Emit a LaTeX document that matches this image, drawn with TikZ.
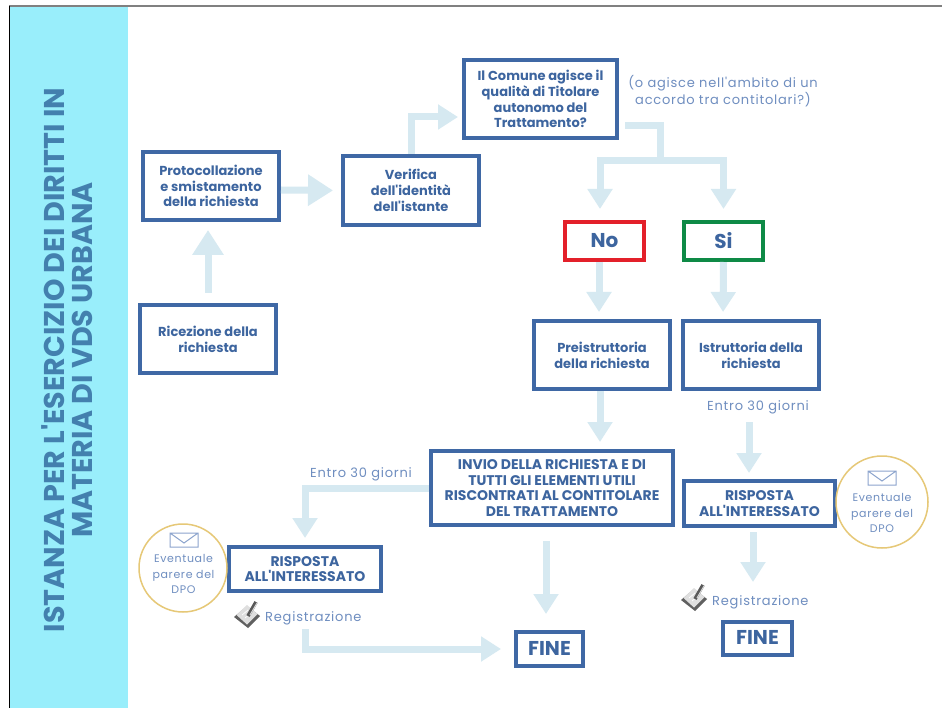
\documentclass[tikz,border=0pt]{standalone}
\usepackage{fontspec}
\setmainfont{Poppins}
\newfontfamily\titlefont{Poppins}[UprightFont={* Bold}]
\newfontfamily\boxfont{Poppins}[UprightFont={* Bold}]
\newfontfamily\lightfont{Poppins}[LetterSpace=6]
\usetikzlibrary{arrows.meta,calc}
\definecolor{boxblue}{HTML}{3F68A5}
\definecolor{txtblue}{HTML}{3D659F}
\definecolor{flowblue}{HTML}{D6E9F1}
\definecolor{softblue}{HTML}{6F8EC0}
\definecolor{strip}{HTML}{99EEFB}
\definecolor{titleblue}{HTML}{4380AE}
\definecolor{gold}{HTML}{E6C877}
\definecolor{noRed}{HTML}{E3202A}
\definecolor{siGreen}{HTML}{0E8A46}
\tikzset{
  x=1pt,y=-1pt,
  box/.style 2 args={draw=boxblue,line width=3.8pt,fill=white,text=txtblue,align=center,
    minimum width=#1pt-3.8pt,minimum height=#2pt-3.8pt,inner sep=0pt,font=\boxfont\fontsize{13}{15.8}\selectfont},
  bigbox/.style={font=\boxfont\fontsize{14}{15.8}\selectfont},
  finebox/.style={font=\boxfont\fontsize{20}{22}\selectfont},
  flow/.style={draw=flowblue,line width=7pt,line cap=butt,line join=miter,
    -{Triangle[length=20pt,width=24pt]}},
  bigflow/.style={flow,-{Triangle[length=25pt,width=30pt]}},
  note/.style={text=softblue,align=center,inner sep=0pt,font=\lightfont\fontsize{13}{17}\selectfont},
  dpo/.style={circle,draw=gold,line width=1.5pt,fill=white,inner sep=0pt},
}
\newcommand{\padicon}[2]{%
  \begin{scope}[shift={(#1,#2)}]
    \fill[gray!75!black] (-13,2) -- (0,-9) -- (13,1) -- (1,13) -- cycle;
    \fill[gray!25] (-10.5,0) -- (0,-10) -- (10.5,-1) -- (0,9.5) -- cycle;
    \draw[white,line width=.7pt] (-5,0) -- (1,-5) (-2,3) -- (4,-2);
    \draw[gray!70!black,line width=3.6pt] (1,1) -- (9,-13);
    \draw[gray!30,line width=1pt] (3,0) -- (10,-12);
  \end{scope}}
\newcommand{\envicon}[2]{%
  \begin{scope}[shift={(#1,#2)}]
    \draw[softblue!80,line width=1pt,line join=miter] (-14,-7) rectangle (14,7) (-14,-7) -- (0,3) -- (14,-7);
  \end{scope}}
\newcommand{\up}[1]{\raisebox{2pt}{#1}}
\begin{document}
\begin{tikzpicture}
\useasboundingbox (0,0) rectangle (942,708);
\fill[white] (0,0) rectangle (942,708);
\fill[strip] (10,7) rectangle (128,708);
\draw[gray,line width=1.2pt] (9,6) -- (942,6);
\draw[black,line width=1pt] (9.5,6) -- (9.5,708);
\node[rotate=90,text=titleblue,align=center,inner sep=0pt,font=\titlefont\fontsize{28.6}{27.5}\selectfont] (title) at (67,360)
  {ISTANZA PER L'ESERCIZIO DEI DIRITTI IN\\MATERIA DI VDS URBANA};

\node[box={140}{72}] (prot) at (211,186) {Protocollazione\\e smistamento\\della richiesta};
\node[box={140}{73}] (verif) at (411,190.5) {Verifica\\dell'identità\\dell'istante};
\node[box={140}{72}] (ric) at (208,339) {Ricezione della\\richiesta};
\node[box={157}{82}] (comune) at (540.5,99) {Il Comune agisce il\\qualità di Titolare\\autonomo del\\Trattamento?};
\node[box={83}{42},draw=noRed,finebox] (no) at (604.5,241) {\up{No}};
\node[box={83}{42},draw=siGreen,finebox] (si) at (723.5,241) {\up{Si}};
\node[box={140}{72}] (pre) at (602,355) {Preistruttoria\\della richiesta};
\node[box={140}{72}] (istr) at (751,355) {Istruttoria della\\richiesta};
\node[box={246}{78},bigbox] (invio) at (552,488) {INVIO DELLA RICHIESTA E DI\\TUTTI GLI ELEMENTI UTILI\\RISCONTRATI AL CONTITOLARE\\DEL TRATTAMENTO};
\node[box={155}{49},bigbox] (rispR) at (759.5,503.5) {RISPOSTA\\ALL'INTERESSATO};
\node[box={156}{48},bigbox] (rispL) at (305,569) {RISPOSTA\\ALL'INTERESSATO};
\node[box={71}{38},finebox] (fineL) at (549.5,649) {\up{FINE}};
\node[box={73}{37},finebox] (fineR) at (757.5,638.5) {\up{FINE}};

\node[note] (notaC) at (723,91.5) {(o agisce nell'ambito di un\\accordo tra contitolari?)};
\node[note] (entroL) at (361,474.5) {Entro 30 giorni};
\node[note] (entroR) at (758,407.5) {Entro 30 giorni};
\node[note,anchor=west] (regL) at (265,618) {Registrazione};
\node[note,anchor=west] (regR) at (712,602) {Registrazione};

\node[dpo,minimum size=88pt] (dpoL) at (183,568) {};
\node[dpo,minimum size=92pt] (dpoR) at (882,502) {};
\node[note,font=\lightfont\fontsize{11}{15.2}\selectfont] (dpoLt) at (183.5,574) {Eventuale\\parere del\\DPO};
\node[note,font=\lightfont\fontsize{11}{15.2}\selectfont] (dpoRt) at (882,513) {Eventuale\\parere del\\DPO};
\envicon{184}{540}
\envicon{882}{478}
\padicon{247}{615}
\padicon{694}{598}

\coordinate (cOut) at (625,126);
\coordinate (cFork) at (660,161);
\coordinate (rgOutL) at (305,629);
\coordinate (rgOutR) at (753,532);
\coordinate (enOutR) at (749,422);
\coordinate (invDown) at (546,541);

\draw[bigflow,shorten <=10pt,shorten >=8pt] (ric.north) -- (ric.north |- prot.south);
\draw[bigflow,shorten >=8pt] ([yshift=-4pt]prot.east) -- (verif.west);
\draw[flow,shorten >=4pt] (verif.north) |- ([yshift=-18pt]comune.west);
\draw[draw=flowblue,line width=7pt] (cOut) -| (cFork);
\draw[flow,shorten >=11pt] (cFork) -| ([xshift=-4.5pt]no.north);
\draw[flow,shorten >=11pt] (cFork) -| (si.north);
\draw[flow,shorten >=7pt] ([xshift=-5.5pt]no.south) -- ([xshift=-3pt]pre.north);
\draw[flow,shorten >=7pt] (si.south) -- ([xshift=-28pt]istr.north);
\draw[flow,shorten >=7pt] ([xshift=-2pt]pre.south) -- ([xshift=48pt]invio.north);
\draw[flow,shorten >=6pt] (enOutR) -- (enOutR |- rispR.north);
\draw[flow,shorten >=38pt] (rgOutR) -- (rgOutR |- fineR.north);
\draw[flow,shorten >=7pt] (invio.west) -| (rispL.north);
\draw[flow,shorten >=16pt] (invDown) -- (invDown |- fineL.north);
\draw[flow,shorten >=13pt] (rgOutL) |- (fineL.west);
\end{tikzpicture}
\end{document}
